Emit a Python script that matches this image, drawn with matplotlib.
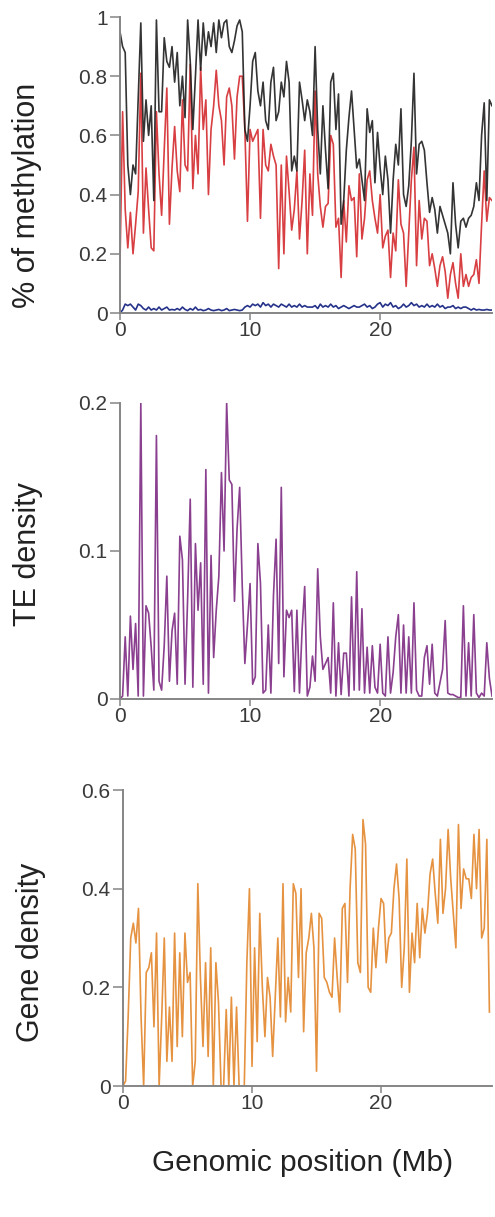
import numpy as np
import matplotlib
matplotlib.use("Agg")
import matplotlib.pyplot as plt

plt.rcParams['font.family'] = ['Liberation Sans', 'DejaVu Sans']

# 200 kb windows along the chromosome
BIN_MB = 0.2

# methylation level per window (CG, CHG, CHH)
meth_cg = [0.95, 0.90, 0.88, 0.50, 0.40, 0.50, 0.47, 0.72, 0.98, 0.58,
           0.72, 0.60, 0.70, 0.38, 0.99, 0.68, 0.68, 0.93, 0.85, 0.83,
           0.90, 0.78, 0.88, 0.70, 0.80, 0.66, 0.99, 0.85, 0.62, 0.80,
           0.99, 0.82, 0.98, 0.87, 0.95, 0.90, 0.98, 0.88, 0.99, 0.93,
           0.98, 0.99, 0.90, 0.88, 0.92, 0.97, 0.99, 0.95, 0.62, 0.58,
           0.70, 0.85, 0.88, 0.75, 0.70, 0.78, 0.65, 0.62, 0.78, 0.83,
           0.65, 0.68, 0.78, 0.73, 0.85, 0.78, 0.48, 0.53, 0.48, 0.78,
           0.72, 0.65, 0.72, 0.68, 0.60, 0.90, 0.62, 0.47, 0.70, 0.55,
           0.42, 0.78, 0.81, 0.62, 0.74, 0.30, 0.38, 0.55, 0.66, 0.75,
           0.62, 0.49, 0.52, 0.45, 0.38, 0.69, 0.61, 0.65, 0.44, 0.61,
           0.49, 0.40, 0.53, 0.45, 0.27, 0.45, 0.57, 0.50, 0.69, 0.40,
           0.36, 0.43, 0.58, 0.81, 0.47, 0.57, 0.58, 0.55, 0.44, 0.34,
           0.39, 0.35, 0.27, 0.36, 0.33, 0.30, 0.27, 0.20, 0.44, 0.30,
           0.22, 0.31, 0.32, 0.29, 0.32, 0.33, 0.36, 0.44, 0.38, 0.60,
           0.71, 0.38, 0.72, 0.70]

meth_chg = [0.17, 0.68, 0.35, 0.22, 0.34, 0.20, 0.30, 0.41, 0.81, 0.27,
            0.49, 0.35, 0.22, 0.21, 0.68, 0.47, 0.33, 0.55, 0.76, 0.30,
            0.49, 0.63, 0.48, 0.41, 0.72, 0.50, 0.48, 0.84, 0.42, 0.60,
            0.47, 0.83, 0.62, 0.72, 0.40, 0.62, 0.70, 0.82, 0.70, 0.65,
            0.50, 0.73, 0.76, 0.70, 0.52, 0.73, 0.80, 0.80, 0.62, 0.31,
            0.62, 0.58, 0.60, 0.62, 0.32, 0.62, 0.50, 0.48, 0.57, 0.53,
            0.50, 0.15, 0.50, 0.20, 0.53, 0.41, 0.28, 0.35, 0.48, 0.25,
            0.38, 0.55, 0.20, 0.47, 0.33, 0.75, 0.47, 0.36, 0.29, 0.36,
            0.37, 0.60, 0.57, 0.29, 0.32, 0.12, 0.38, 0.24, 0.43, 0.38,
            0.39, 0.19, 0.47, 0.25, 0.32, 0.45, 0.48, 0.38, 0.32, 0.27,
            0.40, 0.22, 0.26, 0.28, 0.12, 0.27, 0.21, 0.45, 0.30, 0.27,
            0.09, 0.27, 0.45, 0.56, 0.16, 0.38, 0.25, 0.32, 0.31, 0.16,
            0.20, 0.15, 0.09, 0.16, 0.19, 0.14, 0.05, 0.13, 0.17, 0.10,
            0.05, 0.20, 0.09, 0.13, 0.09, 0.12, 0.13, 0.18, 0.10, 0.30,
            0.48, 0.31, 0.39, 0.38]

meth_chh = [0.00, 0.010, 0.030, 0.025, 0.030, 0.020, 0.010, 0.030, 0.025, 0.015,
            0.010, 0.020, 0.010, 0.015, 0.010, 0.020, 0.010, 0.015, 0.020, 0.010,
            0.012, 0.010, 0.015, 0.010, 0.020, 0.012, 0.008, 0.015, 0.010, 0.020,
            0.010, 0.012, 0.008, 0.010, 0.015, 0.010, 0.008, 0.010, 0.012, 0.008,
            0.010, 0.015, 0.008, 0.010, 0.012, 0.010, 0.008, 0.010, 0.020, 0.025,
            0.020, 0.030, 0.025, 0.030, 0.020, 0.035, 0.025, 0.030, 0.020, 0.030,
            0.025, 0.020, 0.030, 0.025, 0.020, 0.030, 0.020, 0.025, 0.020, 0.030,
            0.020, 0.025, 0.020, 0.020, 0.020, 0.025, 0.015, 0.030, 0.020, 0.025,
            0.020, 0.030, 0.020, 0.025, 0.015, 0.020, 0.025, 0.020, 0.015, 0.020,
            0.025, 0.020, 0.020, 0.025, 0.030, 0.020, 0.025, 0.015, 0.020, 0.030,
            0.035, 0.020, 0.030, 0.025, 0.035, 0.020, 0.025, 0.015, 0.020, 0.030,
            0.020, 0.025, 0.035, 0.025, 0.030, 0.020, 0.025, 0.020, 0.030, 0.020,
            0.025, 0.020, 0.030, 0.020, 0.025, 0.015, 0.020, 0.020, 0.025, 0.015,
            0.020, 0.015, 0.020, 0.020, 0.015, 0.010, 0.015, 0.010, 0.012, 0.010,
            0.010, 0.012, 0.010, 0.010]

# transposable element density per window
te_density = [0.000, 0.002, 0.042, 0.002, 0.056, 0.020, 0.051, 0.002, 0.200, 0.002,
              0.063, 0.058, 0.035, 0.006, 0.178, 0.012, 0.006, 0.036, 0.083, 0.012,
              0.046, 0.058, 0.010, 0.110, 0.094, 0.010, 0.068, 0.135, 0.008, 0.105,
              0.060, 0.092, 0.010, 0.155, 0.004, 0.097, 0.028, 0.060, 0.083, 0.153,
              0.100, 0.200, 0.148, 0.145, 0.066, 0.115, 0.143, 0.076, 0.024, 0.050,
              0.078, 0.010, 0.015, 0.105, 0.078, 0.004, 0.006, 0.050, 0.004, 0.070,
              0.108, 0.024, 0.143, 0.015, 0.060, 0.055, 0.060, 0.005, 0.060, 0.004,
              0.047, 0.076, 0.002, 0.008, 0.029, 0.012, 0.088, 0.042, 0.020, 0.024,
              0.028, 0.004, 0.065, 0.002, 0.038, 0.003, 0.031, 0.031, 0.002, 0.069,
              0.006, 0.086, 0.006, 0.061, 0.004, 0.035, 0.004, 0.036, 0.008, 0.004,
              0.037, 0.004, 0.002, 0.042, 0.004, 0.018, 0.042, 0.057, 0.004, 0.050,
              0.004, 0.042, 0.004, 0.065, 0.006, 0.002, 0.002, 0.028, 0.036, 0.010,
              0.037, 0.004, 0.002, 0.011, 0.020, 0.053, 0.004, 0.003, 0.003, 0.002,
              0.001, 0.001, 0.063, 0.002, 0.038, 0.002, 0.057, 0.004, 0.001, 0.004,
              0.002, 0.038, 0.014, 0.002]

# gene density per window
gene_density = [0.00, 0.01, 0.14, 0.30, 0.33, 0.29, 0.36, 0.14, 0.00, 0.23,
                0.24, 0.27, 0.12, 0.31, 0.00, 0.14, 0.30, 0.05, 0.16, 0.05,
                0.31, 0.08, 0.27, 0.10, 0.31, 0.21, 0.23, 0.00, 0.05, 0.41,
                0.22, 0.08, 0.25, 0.06, 0.28, 0.00, 0.25, 0.17, 0.00, 0.00,
                0.155, 0.00, 0.18, 0.00, 0.16, 0.00, 0.00, 0.00, 0.25, 0.40,
                0.04, 0.28, 0.09, 0.35, 0.20, 0.10, 0.22, 0.18, 0.06, 0.18,
                0.30, 0.14, 0.41, 0.13, 0.22, 0.15, 0.41, 0.39, 0.22, 0.40,
                0.11, 0.27, 0.30, 0.35, 0.28, 0.03, 0.35, 0.34, 0.22, 0.21,
                0.19, 0.18, 0.30, 0.22, 0.15, 0.36, 0.37, 0.21, 0.40, 0.51,
                0.48, 0.25, 0.23, 0.54, 0.49, 0.20, 0.19, 0.32, 0.24, 0.32,
                0.38, 0.37, 0.25, 0.30, 0.31, 0.40, 0.45, 0.38, 0.20, 0.28,
                0.46, 0.19, 0.31, 0.25, 0.37, 0.26, 0.36, 0.31, 0.35, 0.43,
                0.46, 0.39, 0.33, 0.50, 0.35, 0.40, 0.52, 0.42, 0.35, 0.28,
                0.53, 0.36, 0.44, 0.42, 0.42, 0.38, 0.51, 0.40, 0.52, 0.30,
                0.32, 0.50, 0.15]


def positions(values):
    return np.arange(len(values)) * BIN_MB


W, H = 495, 1217
fig = plt.figure(figsize=(W / 100, H / 100), dpi=100)


def add_panel(left_px, right_px, top_px, bottom_px):
    ax = fig.add_axes([left_px / W, 1 - bottom_px / H,
                       (right_px - left_px) / W, (bottom_px - top_px) / H])
    for side in ('top', 'right'):
        ax.spines[side].set_visible(False)
    for side in ('left', 'bottom'):
        ax.spines[side].set_color('#858585')
        ax.spines[side].set_linewidth(1.4)
    ax.tick_params(colors='#858585', labelcolor='#3a3a3a', labelsize=15,
                   width=1.1)
    ax.tick_params(axis='y', length=7, pad=2)
    ax.tick_params(axis='x', length=5, pad=1)
    ax.set_xlim(0, 28.6)
    ax.set_xticks([0, 10, 20])
    return ax


def side_label(text, x_px, y_px):
    fig.text(x_px / W, 1 - y_px / H, text, fontsize=22, color='#222222',
             rotation=90, ha='center', va='center')


LW = 1.2

# methylation: CHG drawn first so the CG trace sits on top
ax1 = add_panel(120, 492, 17, 313)
ax1.plot(positions(meth_chg), meth_chg, color='#d42a2e', lw=LW, alpha=0.9)
ax1.plot(positions(meth_cg), meth_cg, color='#1e1e1e', lw=LW, alpha=0.9)
ax1.plot(positions(meth_chh), meth_chh, color='#25328a', lw=LW)
ax1.set_ylim(0, 1)
ax1.set_yticks([0, 0.2, 0.4, 0.6, 0.8, 1])
ax1.set_yticklabels(['0', '0.2', '0.4', '0.6', '0.8', '1'])
side_label('% of methylation', 27, 195)

# TE density
ax2 = add_panel(120, 492, 403, 699)
ax2.plot(positions(te_density), te_density, color='#7d2a83', lw=LW, alpha=0.9)
ax2.set_ylim(0, 0.2)
ax2.set_yticks([0, 0.1, 0.2])
ax2.set_yticklabels(['0', '0.1', '0.2'])
side_label('TE density', 28, 554)

# gene density
ax3 = add_panel(123, 492, 790, 1086)
ax3.plot(positions(gene_density), gene_density, color='#e3862c', lw=LW, alpha=0.9)
ax3.set_ylim(0, 0.6)
ax3.set_yticks([0, 0.2, 0.4, 0.6])
ax3.set_yticklabels(['0', '0.2', '0.4', '0.6'])
side_label('Gene density', 31, 952)

fig.text(303 / W, 1 - 1163 / H, 'Genomic position (Mb)', fontsize=21.5,
         color='#222222', ha='center', va='center')

fig.savefig('out.png', dpi=100)
